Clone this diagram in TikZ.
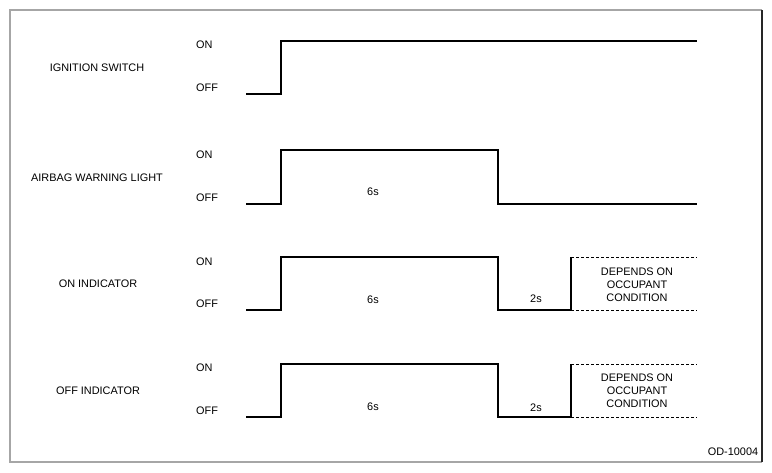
\documentclass[tikz,border=0pt]{standalone}
\usepackage{fontspec}
\setmainfont{Liberation Sans}
\usepackage{tikz}

\tikzset{
	wave/.style={line width=1.1pt},
	opt/.style={line width=0.9pt, dashed, dash pattern=on 3pt off 2pt},
	lbl/.style={inner sep=0pt, font=\fontsize{10.9}{13}\selectfont},
	lvl/.style={lbl, anchor=west}
}

\begin{document}
\begin{tikzpicture}[x=1pt,y=-1pt]
\useasboundingbox (0,0) rectangle (772,472);
% frame
\draw [gray!70, line width=1.2pt] (762,462) -- (10,462) -- (10,10) -- (762,10);
\draw [black!85, line width=1.2pt] (762,10) -- (762,462);
% signal names
\node [lbl] (ign) at (97,68) {IGNITION SWITCH};
\node [lbl] (abl) at (97,178) {AIRBAG WARNING LIGHT};
\node [lbl] (oni) at (98,284) {ON INDICATOR};
\node [lbl] (ofi) at (98,391) {OFF INDICATOR};
% ON / OFF levels
\foreach \n/\y in {1/45,2/155,3/262,4/368}
	{
	\node [lvl] (on\n) at (196,\y) {ON};
	}
\foreach \n/\y in {1/88,2/198,3/304,4/411}
	{
	\node [lvl] (off\n) at (196,\y) {OFF};
	}
% ignition switch
\draw [wave] (246,94) -- (281,94) -- (281,41) -- (697,41);
% airbag warning light
\draw [wave] (246,204) -- (281,204) -- (281,150) -- (498,150) -- (498,204) -- (697,204);
\node [lbl] (t6a) at (373,192) {6s};
% on indicator
\draw [wave] (246,310) -- (281,310) -- (281,257) -- (498,257) -- (498,310) -- (571,310) -- (571,257);
\draw [opt] (571,257) -- (697,257);
\draw [opt] (571,310) -- (697,310);
\node [lbl] (t6b) at (373,300) {6s};
\node [lbl] (t2b) at (536,299) {2s};
\node [lbl, align=center] (depb) at (637,285) {DEPENDS ON\\OCCUPANT\\CONDITION};
% off indicator
\draw [wave] (246,417) -- (281,417) -- (281,364) -- (498,364) -- (498,417) -- (571,417) -- (571,364);
\draw [opt] (571,364) -- (697,364);
\draw [opt] (571,417) -- (697,417);
\node [lbl] (t6c) at (373,407) {6s};
\node [lbl] (t2c) at (536,408) {2s};
\node [lbl, align=center] (depc) at (637,391) {DEPENDS ON\\OCCUPANT\\CONDITION};
% figure number
\node [lbl] (fig) at (733,452) {OD-10004};
\end{tikzpicture}
\end{document}
